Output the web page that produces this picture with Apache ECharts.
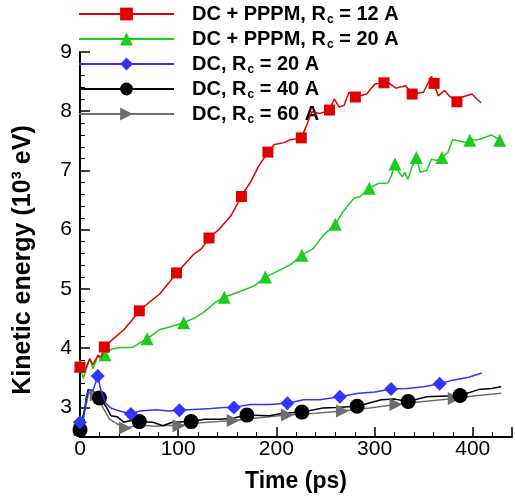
<!DOCTYPE html>
<html><head><meta charset="utf-8">
<script src="https://cdn.jsdelivr.net/npm/echarts@6/dist/echarts.min.js"></script>
<style>html,body{margin:0;padding:0;background:#fff}#c{width:515px;height:498px}</style>
</head><body><div id="c"></div>
<script>
const seriesNames = ['DC + PPPM, Rc = 12 A','DC + PPPM, Rc = 20 A','DC, Rc = 20 A','DC, Rc = 40 A','DC, Rc = 60 A'];
const xTickLabels = [0,100,200,300,400];
const yTickLabels = [3,4,5,6,7,8,9];
const xTitle = 'Time (ps)';
const yTitle = 'Kinetic energy (10³ eV)';

const redX = [0,4.9,9.9,13.2,18.1,21.5,24.8,34.7,44.6,52.8,60.4,71,80.9,90.8,98.3,110.6,115.5,123.8,131.4,141.9,153.5,164.4,175,181.5,191.4,198,207.9,214.5,225.4,231,236,244.2,254.1,259,264,269,274,280.5,292,300.3,309.6,315,321.8,331.7,338.3,349.8,358,360.7,364.7,371.3,376,383.9,389.4,399.3,404,408.6];
const redY = [3.68,3.62,3.82,3.72,3.88,3.85,4.02,4.17,4.31,4.47,4.63,4.78,4.91,5.11,5.27,5.49,5.58,5.68,5.86,6.01,6.23,6.56,6.84,7.06,7.31,7.44,7.47,7.52,7.55,7.77,7.99,7.96,8.02,8.21,8.07,8.10,8.32,8.24,8.29,8.46,8.48,8.47,8.39,8.43,8.29,8.32,8.59,8.47,8.26,8.35,8.26,8.16,8.24,8.29,8.21,8.14];
const redMarks = [0,24.8,60.4,98.3,131.4,164.4,191.4,225.4,254.1,280.5,309.6,338.3,360.7,383.9];

const greenX = [0,3.3,9.9,13.2,18.1,21.5,25.4,31.4,41.3,52.8,61.1,68.3,80.9,94,105.6,115.5,125.4,138.6,146.9,165,178.2,188.8,201.3,214.5,226,237.6,247.5,260,267.3,278.9,285.4,294.7,303.6,313.5,316.8,320.8,325,328.4,330.7,334,338,342.6,346.5,353.1,358,363,368.6,374.6,379.5,386,392.6,397,406,419,424,427.4,429];
const greenY = [3.70,3.49,3.82,3.65,3.87,3.79,3.89,3.98,4.01,4.01,4.09,4.16,4.31,4.37,4.43,4.50,4.60,4.78,4.86,4.97,5.06,5.20,5.30,5.41,5.57,5.68,5.90,6.09,6.29,6.53,6.56,6.70,6.78,6.79,6.89,7.11,6.97,6.89,6.97,6.85,7.06,7.22,6.97,7.00,7.19,7.17,7.22,7.30,7.52,7.50,7.47,7.51,7.52,7.60,7.55,7.51,7.52];
const greenMarks = [0,25.4,68.3,105.6,146.9,188.8,226,260,294.7,320.8,342.6,368.6,397,427.4];

const blueX = [0,3,6.6,9.9,13.2,18.1,21.5,26.4,31.4,38,51.8,61.1,77.6,90.8,101.3,120.5,133.7,146.9,156.7,173.3,193,211.2,227.7,244.2,264.7,283.8,300.3,316.8,333.3,349.8,366.3,379.5,396,409.2];
const blueY = [2.75,2.72,3.21,3.30,3.28,3.53,3.27,3.07,2.99,2.95,2.89,2.94,2.96,2.94,2.95,2.97,2.98,3.00,3.00,3.05,3.05,3.07,3.13,3.13,3.18,3.24,3.26,3.31,3.32,3.35,3.40,3.46,3.51,3.58];
const blueMarks = [0,18.1,51.8,101.3,156.7,211.2,264.7,316.8,366.3];

const blackX = [0,5,8.2,13.2,19.8,26.4,31.4,38,44.6,51.2,60.4,74.3,84.2,94,113.2,127,143.6,156.7,170,193,206.3,226,247.5,260.7,282.2,307,320,334.3,353,366.3,387.1,406,419,429];
const blackY = [2.62,2.99,3.30,3.28,3.16,3.02,2.86,2.84,2.75,2.78,2.76,2.75,2.69,2.75,2.76,2.80,2.80,2.82,2.87,2.86,2.90,2.92,2.99,3.00,3.02,3.13,3.14,3.10,3.18,3.19,3.20,3.30,3.32,3.35];
const blackMarks = [0,19.8,60.4,113.2,170,226,282.2,334.3,387.1];

const grayX = [0,5,9,16.5,24,30,38,46.2,60,77.6,90,100.7,115,130,156.1,185,211.2,240,267.3,295,321.8,350,381.2,405,429];
const grayY = [2.62,2.95,3.25,3.21,2.98,2.80,2.72,2.65,2.70,2.68,2.70,2.69,2.73,2.75,2.78,2.83,2.87,2.90,2.94,2.99,3.05,3.10,3.15,3.20,3.24];
const grayMarks = [0,16.5,46.2,100.7,156.1,211.2,267.3,321.8,381.2];

function build(xs, ys, marks) {
  return xs.map((x, i) => marks.indexOf(x) >= 0 ? { value: [x, ys[i]] } : { value: [x, ys[i]], symbol: 'none' });
}
function mk(name, color, xs, ys, marks, symbol, size, rot, z) {
  return {
    name: name, type: 'line', data: build(xs, ys, marks), z: z,
    symbol: symbol, symbolSize: size, symbolRotate: rot || 0,
    showSymbol: true, showAllSymbol: true,
    lineStyle: { color: color, width: 1.5 },
    itemStyle: { color: color, borderWidth: 0 },
    emphasis: { disabled: true }, animation: false, clip: false
  };
}
const FONT = '"Liberation Sans", Arial, sans-serif';
const chart = echarts.init(document.getElementById('c'), null, { renderer: 'canvas' });
chart.setOption({
  backgroundColor: '#fff',
  animation: false,
  grid: { left: 80, top: 52, width: 444.4, height: 395, containLabel: false },
  graphic: [{
    type: 'text', x: 23, y: 260, rotation: Math.PI / 2,
    style: { text: yTitle, fontFamily: FONT, fontWeight: 'bold', fontSize: 25, fill: '#000',
      align: 'center', verticalAlign: 'middle' }
  }],
  legend: {
    orient: 'vertical', left: 78, top: 4, padding: 0, itemWidth: 95, itemHeight: 16, itemGap: 3,
    data: seriesNames, selectedMode: false,
    formatter: function (n) { const p = n.split('Rc'); return '{b|' + p[0] + 'R}{s|c}{b|' + p[1] + '}'; },
    textStyle: {
      padding: [0, 0, 0, 13],
      rich: {
        b: { fontFamily: FONT, fontWeight: 'bold', fontSize: 20, color: '#000' },
        s: { fontFamily: FONT, fontWeight: 'bold', fontSize: 12, color: '#000', padding: [12, 0, 0, 1] }
      }
    }
  },
  xAxis: {
    type: 'value', min: 0, max: 440, interval: 100,
    name: xTitle, nameLocation: 'middle', nameGap: 33,
    nameTextStyle: { fontFamily: FONT, fontWeight: 'bold', fontSize: 23, color: '#000' },
    axisLine: { lineStyle: { color: '#000', width: 2 } },
    axisTick: { inside: true, length: 10, lineStyle: { color: '#000', width: 1.5 } },
    minorTick: { show: true, splitNumber: 5, length: 5, lineStyle: { color: '#000', width: 1 } },
    splitLine: { show: false },
    axisLabel: { fontFamily: FONT, fontSize: 21, color: '#000', margin: 2,
      formatter: v => xTickLabels.indexOf(v) >= 0 ? String(v) : '' }
  },
  yAxis: {
    type: 'value', min: 2.5, max: 9, splitNumber: 6,
    axisLine: { lineStyle: { color: '#000', width: 2 } },
    axisTick: { inside: true, length: 10, lineStyle: { color: '#000', width: 1.5 } },
    minorTick: { show: true, splitNumber: 5, length: 5, lineStyle: { color: '#000', width: 1 } },
    splitLine: { show: false },
    axisLabel: { fontFamily: FONT, fontSize: 21, color: '#000', margin: 8,
      formatter: v => yTickLabels.indexOf(v) >= 0 ? String(v) : '' }
  },
  series: [
    mk(seriesNames[0], '#e00000', redX, redY, redMarks, 'rect', 11, 0, 5),
    mk(seriesNames[1], '#1ccc1c', greenX, greenY, greenMarks, 'triangle', 13, 0, 4),
    mk(seriesNames[2], '#3434ff', blueX, blueY, blueMarks, 'diamond', 14, 0, 3),
    mk(seriesNames[4], '#6e6e6e', grayX, grayY, grayMarks, 'triangle', 13, -90, 2),
    mk(seriesNames[3], '#000000', blackX, blackY, blackMarks, 'circle', 15, 0, 2)
  ]
});
</script></body></html>
